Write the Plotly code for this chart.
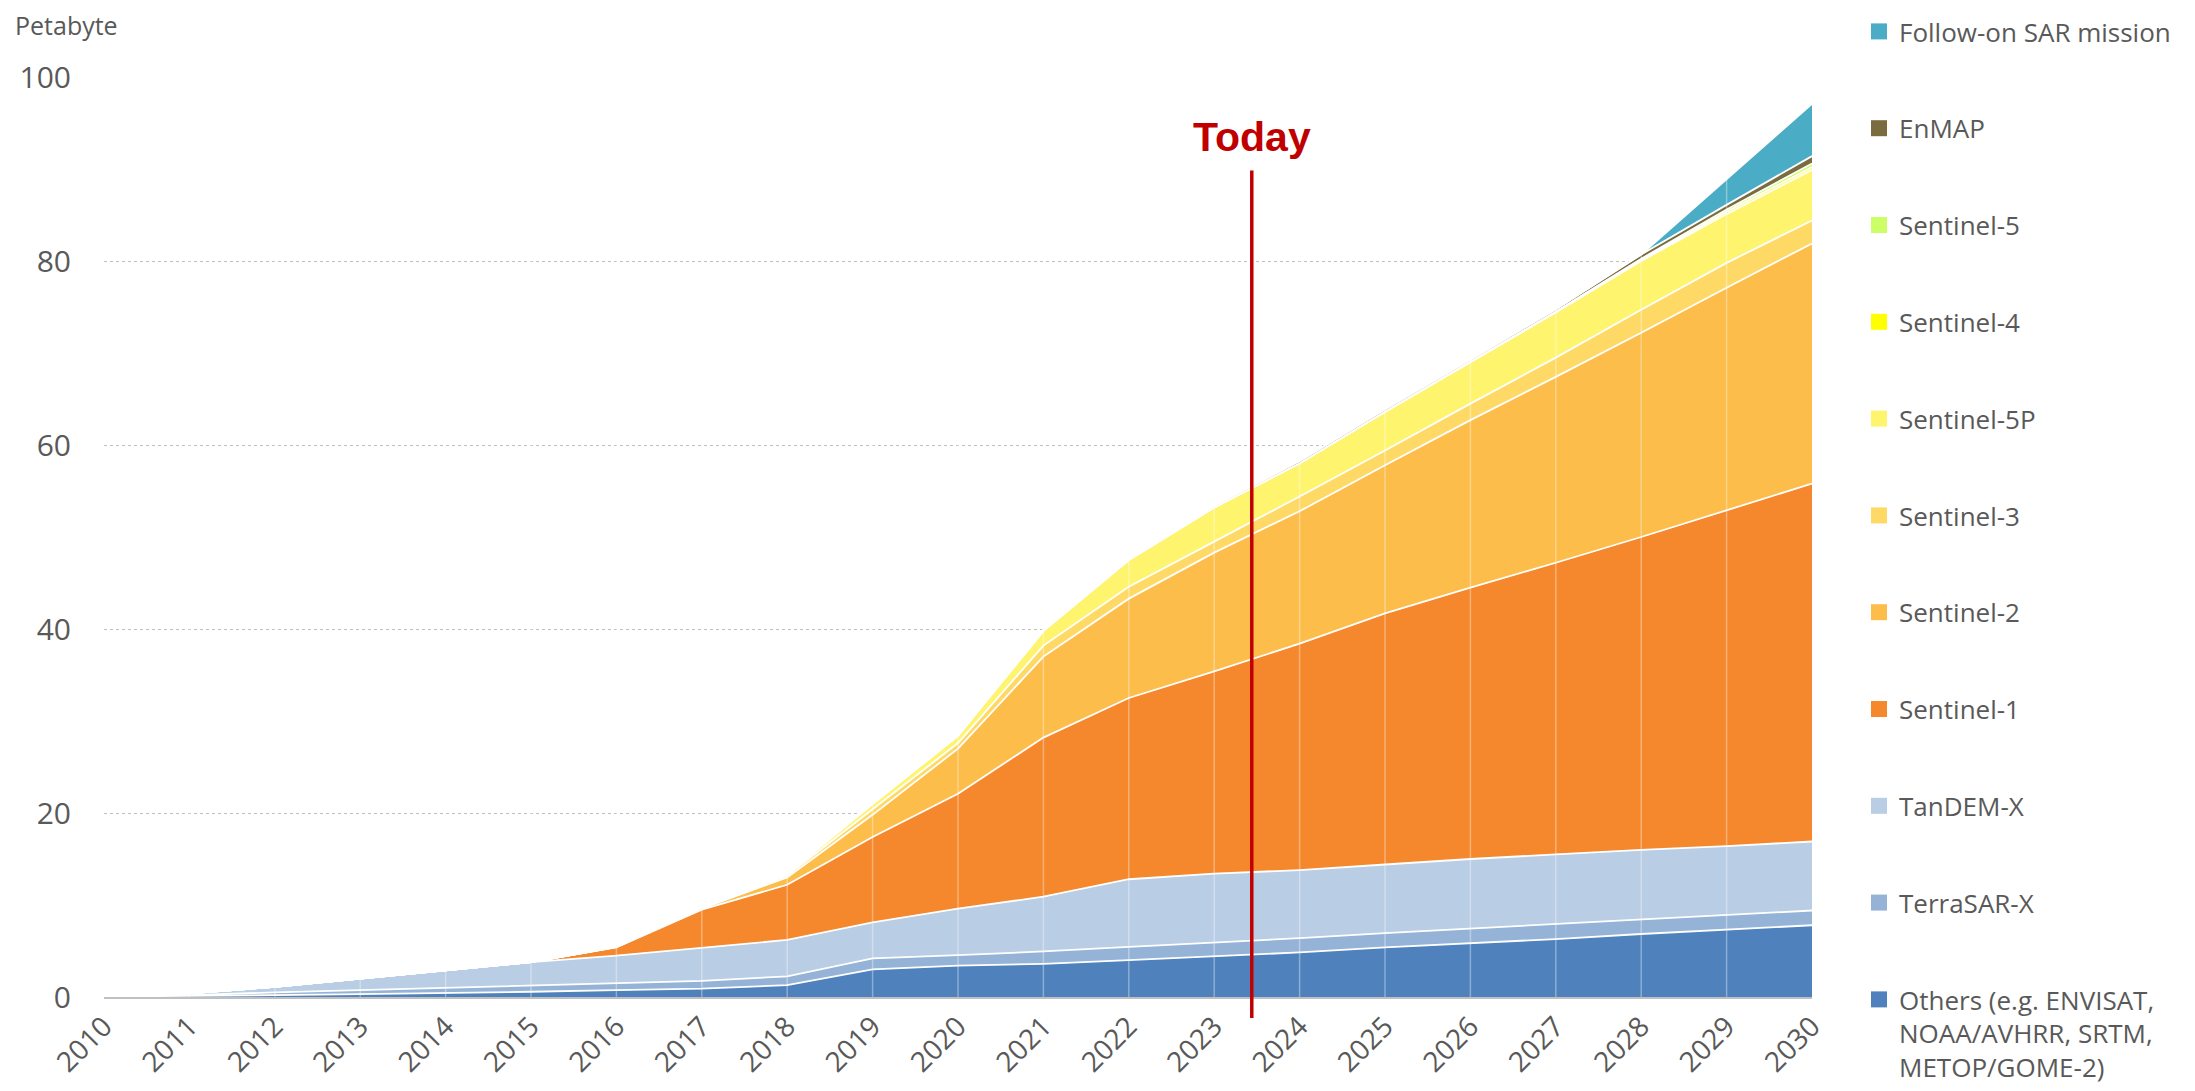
import plotly.graph_objects as go

years = list(range(2010, 2031))
tick_labels = [str(y) for y in years]

others = [0.05, 0.1, 0.2, 0.32, 0.43, 0.57, 0.75, 0.9, 1.3, 3.0, 3.4, 3.6, 4.0, 4.4, 4.85, 5.4, 5.85, 6.3, 6.85, 7.3, 7.8]
terrasar_x = [0.1, 0.1, 0.3, 0.43, 0.52, 0.63, 0.75, 0.85, 0.95, 1.2, 1.15, 1.35, 1.45, 1.5, 1.55, 1.55, 1.6, 1.6, 1.6, 1.6, 1.6]
tandem_x = [0.05, 0.2, 0.6, 1.25, 1.9, 2.6, 3.0, 3.6, 3.95, 3.9, 5.05, 5.95, 7.35, 7.5, 7.4, 7.45, 7.55, 7.6, 7.55, 7.5, 7.5]
sentinel_1 = [0, 0, 0, 0, 0, 0, 0.9, 4.15, 6.0, 9.3, 12.5, 17.3, 19.7, 22.0, 24.6, 27.3, 29.5, 31.7, 34.0, 36.5, 38.9]
sentinel_2 = [0, 0, 0, 0, 0, 0, 0.05, 0.1, 0.8, 2.4, 4.9, 8.8, 10.8, 12.9, 14.4, 16.1, 18.2, 20.2, 22.2, 24.2, 26.1]
sentinel_3 = [0, 0, 0, 0, 0, 0, 0, 0.05, 0.2, 0.6, 0.6, 1.2, 1.3, 1.2, 1.6, 1.6, 1.8, 2.1, 2.5, 2.7, 2.5]
sentinel_5p = [0, 0, 0, 0, 0, 0, 0, 0, 0.2, 0.6, 0.8, 1.6, 2.9, 3.7, 3.6, 4.2, 4.5, 4.9, 5.3, 5.3, 5.5]
sentinel_4 = [0, 0, 0, 0, 0, 0, 0, 0, 0, 0, 0, 0, 0, 0, 0.02, 0.02, 0.03, 0.05, 0.1, 0.25, 0.3]
sentinel_5 = [0, 0, 0, 0, 0, 0, 0, 0, 0, 0, 0, 0, 0, 0, 0, 0.02, 0.03, 0.05, 0.15, 0.25, 0.4]
enmap = [0, 0, 0, 0, 0, 0, 0, 0, 0, 0, 0, 0.1, 0.15, 0.2, 0.25, 0.25, 0.25, 0.25, 0.45, 0.5, 0.8]
follow_on_sar = [0, 0, 0, 0, 0, 0, 0, 0, 0, 0, 0, 0, 0, 0, 0, 0, 0, 0, 0, 2.75, 5.7]

series_names = [
    "Others (e.g. ENVISAT,<br>NOAA/AVHRR, SRTM,<br>METOP/GOME-2)",
    "TerraSAR-X", "TanDEM-X", "Sentinel-1", "Sentinel-2", "Sentinel-3",
    "Sentinel-5P", "Sentinel-4", "Sentinel-5", "EnMAP", "Follow-on SAR mission",
]
series_values = [others, terrasar_x, tandem_x, sentinel_1, sentinel_2, sentinel_3,
                 sentinel_5p, sentinel_4, sentinel_5, enmap, follow_on_sar]
series_colors = ["#4F81BD", "#95B3D7", "#B9CDE5", "#F5882C", "#FDBD4B", "#FFD966",
                 "#FFF46E", "#FFFF00", "#CCFF66", "#7A6C3E", "#4BACC6"]

today_x = 2023.44
y_ticks = [0, 20, 40, 60, 80, 100]

fig = go.Figure()

for name, vals, col in zip(series_names, series_values, series_colors):
    fig.add_trace(go.Scatter(
        x=years, y=vals, stackgroup="one", mode="lines",
        line=dict(color="white", width=1.8), fillcolor=col,
        showlegend=False, hoverinfo="skip", name=name,
    ))

# legend entries (square swatches), top of stack first
n = len(series_names)
for i in range(n - 1, -1, -1):
    fig.add_trace(go.Scatter(
        x=[None], y=[None], mode="markers", name=series_names[i],
        marker=dict(symbol="square", size=16, color=series_colors[i]),
        legendgroup=f"g{n - 1 - i:02d}", showlegend=True,
    ))

font_family = "Open Sans, Noto Sans, DejaVu Sans, sans-serif"
grey = "#595959"

shapes = []
for yr in years[1:-1]:
    shapes.append(dict(type="line", xref="x", yref="y", x0=yr, x1=yr, y0=0, y1=100,
                       line=dict(color="rgba(255,255,255,0.35)", width=1.5), layer="above"))
shapes.append(dict(type="line", xref="x", yref="paper", x0=today_x, x1=today_x,
                   y0=-0.0227, y1=0.8985, line=dict(color="#C00000", width=3.5), layer="above"))

fig.update_layout(
    width=2187, height=1083,
    margin=dict(l=89, r=383, t=69, b=89),
    paper_bgcolor="white", plot_bgcolor="white",
    font=dict(family=font_family, color=grey, size=28),
    xaxis=dict(
        range=[2010, 2030], tickmode="array", tickvals=years, ticktext=tick_labels,
        tickangle=-45, showgrid=False, zeroline=False,
        showline=True, linecolor="#BFBFBF", linewidth=2, ticks="",
        tickfont=dict(size=28, color=grey, family=font_family),
    ),
    yaxis=dict(
        range=[0, 100], tickvals=y_ticks, showgrid=True, gridcolor="#BFBFBF",
        griddash="dot", gridwidth=1.2, zeroline=False, ticks="",
        tickfont=dict(size=30, color=grey, family=font_family),
        ticklabelstandoff=32,
    ),
    legend=dict(
        xref="container", yref="container", x=1851 / 2187, y=1.0,
        xanchor="left", yanchor="top", traceorder="grouped",
        tracegroupgap=60, valign="top", maxheight=1100,
        font=dict(size=26, color=grey, family=font_family),
        bgcolor="rgba(0,0,0,0)",
    ),
    shapes=shapes,
    annotations=[
        dict(text="Petabyte", xref="paper", yref="paper", x=-0.053, y=1.056,
             xanchor="left", yanchor="middle", showarrow=False,
             font=dict(size=25, color=grey, family=font_family)),
        dict(text="<b>Today</b>", xref="x", yref="y", x=today_x, y=93.5,
             xanchor="center", yanchor="middle", showarrow=False,
             font=dict(size=41, color="#C00000", family="Liberation Sans, Arial, sans-serif")),
    ],
)

fig.write_html("out.html")
